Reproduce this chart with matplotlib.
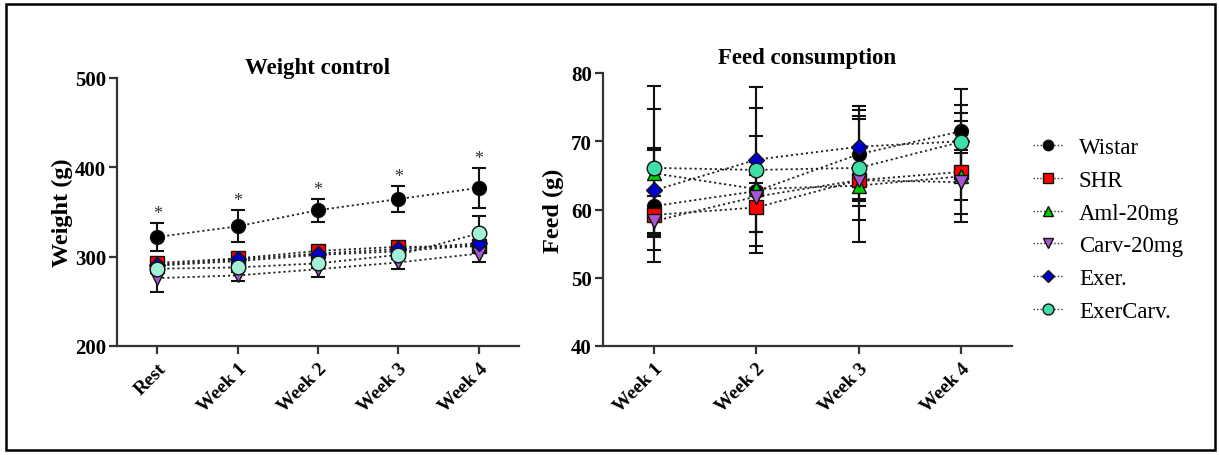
import matplotlib
matplotlib.use("Agg")
import matplotlib.pyplot as plt
from matplotlib.patches import Rectangle
from matplotlib.lines import Line2D

plt.rcParams['font.family'] = ['Liberation Serif', 'DejaVu Serif']

groups = ["Wistar", "SHR", "Aml-20mg", "Carv-20mg", "Exer.", "ExerCarv."]
markers = ["o", "s", "^", "v", "D", "o"]
colors = ["#000000", "#ff0000", "#00cc00", "#a757d6", "#0000cc", "#3ee0a6"]
colors_left = ["#000000", "#ff0000", "#00cc00", "#a757d6", "#0000cc", "#a3f0d8"]
msizes = [10, 9.5, 9.5, 9.5, 8, 10.5]

# Weight control
w_labels = ["Rest", "Week 1", "Week 2", "Week 3", "Week 4"]
w_mean = {
    "Wistar":    [322, 334, 352, 364.5, 377],
    "SHR":       [293, 298, 306.5, 311, 311.5],
    "Aml-20mg":  [290, 295, 302, 306, 313],
    "Carv-20mg": [276, 279, 286, 293.5, 303.5],
    "Exer.":     [291, 297, 303.5, 308.5, 315],
    "ExerCarv.": [286.5, 288, 292.5, 302, 326],
}
w_sd = {
    "Wistar":    [16, 18, 13, 15, 22],
    "SHR":       [4, 4, 4, 4, 4],
    "Aml-20mg":  [4, 4, 4, 4, 4],
    "Carv-20mg": [16, 6, 8.5, 7.6, 10],
    "Exer.":     [4, 4, 4, 4, 4],
    "ExerCarv.": [5, 5, 5, 5, 20],
}

# Feed consumption
f_labels = ["Week 1", "Week 2", "Week 3", "Week 4"]
f_mean = {
    "Wistar":    [60.5, 62.7, 68.1, 71.45],
    "SHR":       [59.2, 60.3, 64.3, 65.5],
    "Aml-20mg":  [65.3, 63.0, 63.5, 64.85],
    "Carv-20mg": [58.3, 61.9, 64.3, 64.0],
    "Exer.":     [62.8, 67.3, 69.2, 70.0],
    "ExerCarv.": [66.1, 65.8, 66.1, 69.9],
}
f_sd = {
    "Wistar":    [8.2, 8.0, 6.5, 6.2],
    "SHR":       [2.8, 6.7, 9.0, 7.4],
    "Aml-20mg":  [9.4, 2.0, 2.3, 3.5],
    "Carv-20mg": [2.0, 2.0, 3.8, 4.7],
    "Exer.":     [6.2, 10.6, 5.9, 4.2],
    "ExerCarv.": [12.0, 9.1, 7.6, 5.4],
}

fig = plt.figure(figsize=(12.19, 4.56), dpi=100)
fig.patches.append(Rectangle((6/1219, 5/456), 1209/1219, 446/456, transform=fig.transFigure,
                             fill=False, edgecolor='black', linewidth=1.8, zorder=10))

axL = fig.add_axes([117/1219, 1-347/456, 402/1219, 268/456])
axR = fig.add_axes([603/1219, 1-347/456, 409/1219, 273/456])

def draw(ax, labels, means, sds, cols):
    x = list(range(len(labels)))
    for i, g in enumerate(groups):
        ax.errorbar(x, means[g], yerr=sds[g], fmt='none', ecolor='#111111',
                    elinewidth=1.5, capsize=5, capthick=1.5, zorder=2)
    for i, g in enumerate(groups):
        ax.plot(x, means[g], linestyle=(0, (1.2, 1.6)), color='#222222', linewidth=1.3,
                zorder=3)
    for i, g in enumerate(groups):
        ax.plot(x, means[g], linestyle='none', marker=markers[i], markersize=msizes[i],
                markerfacecolor=cols[i], markeredgecolor='#111111', markeredgewidth=1.0,
                zorder=4 + i * 0.1)
    ax.set_xticks(x)
    ax.set_xticklabels(labels, rotation=45, ha='right', rotation_mode='anchor',
                       fontsize=14, fontweight='bold')
    ax.set_xlim(-0.5, len(labels) - 0.5)
    for s in ['top', 'right']:
        ax.spines[s].set_visible(False)
    for s in ['left', 'bottom']:
        ax.spines[s].set_linewidth(1.6)
        ax.spines[s].set_color('#333333')
    ax.tick_params(axis='both', width=1.6, length=6, color='#333333')
    ax.tick_params(axis='x', pad=4)
    ax.tick_params(axis='y', pad=2)

draw(axL, w_labels, w_mean, w_sd, colors_left)
axL.set_ylim(200, 500)
axL.set_yticks([200, 300, 400, 500])
axL.set_yticklabels(["200", "300", "400", "500"], fontsize=15, fontweight='bold')
axL.set_ylabel("Weight (g)", fontsize=17.5, fontweight='bold', labelpad=1)
axL.set_title("Weight control", fontsize=16.5, fontweight='bold', pad=2)
for i in range(len(w_labels)):
    top = w_mean["Wistar"][i] + w_sd["Wistar"][i]
    axL.text(i, top + 1, "*", ha='center', va='bottom', fontsize=13, color='#333333')

draw(axR, f_labels, f_mean, f_sd, colors)
axR.set_ylim(40, 80)
axR.set_yticks([40, 50, 60, 70, 80])
axR.set_yticklabels(["40", "50", "60", "70", "80"], fontsize=15, fontweight='bold')
axR.set_ylabel("Feed (g)", fontsize=17.5, fontweight='bold', labelpad=5)
axR.set_title("Feed consumption", fontsize=16.5, fontweight='bold', pad=7)

handles = [Line2D([0], [0], linestyle=(0, (1, 1.5)), color='#333333', linewidth=1.0,
                  marker=markers[i], markersize=msizes[i] * 0.75, markerfacecolor=colors[i],
                  markeredgecolor='#111111', markeredgewidth=1.0) for i in range(len(groups))]
fig.legend(handles, groups, loc='upper left', bbox_to_anchor=(1024/1219, 1-129/456),
           frameon=False, fontsize=16.5, handlelength=1.3, handletextpad=0.7,
           labelspacing=0.51, borderaxespad=0)

fig.savefig("out.png", dpi=100)
